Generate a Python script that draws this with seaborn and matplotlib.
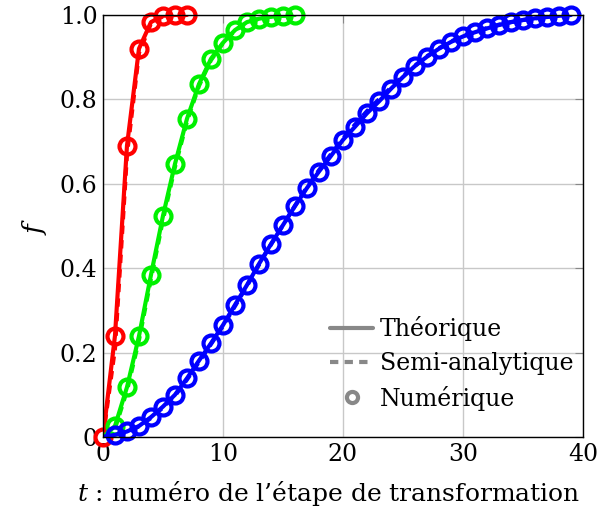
import numpy as np
import pandas as pd
import seaborn as sns
import matplotlib
matplotlib.use("Agg")
import matplotlib.pyplot as plt
from matplotlib.lines import Line2D

# values
t_red = [0, 1, 2, 3, 4, 5, 6, 7]
f_red_theo = [0, 0.24, 0.69, 0.92, 0.983, 0.998, 1.0, 1.0]
f_red_semi = [0, 0.21, 0.67, 0.91, 0.98, 0.997, 1.0, 1.0]
f_red_num = [0, 0.24, 0.69, 0.92, 0.983, 0.998, 1.0, 1.0]

t_green = list(range(0, 17))
f_green_theo = [0, 0.026, 0.118, 0.239, 0.384, 0.524, 0.647, 0.754, 0.836,
                0.896, 0.934, 0.964, 0.983, 0.991, 0.996, 0.998, 1.0]
f_green_semi = [0, 0.02, 0.11, 0.23, 0.375, 0.515, 0.64, 0.748, 0.832,
                0.893, 0.933, 0.963, 0.982, 0.991, 0.996, 0.998, 1.0]
f_green_num = f_green_theo

t_blue = list(range(0, 40))
f_blue_theo = [0, 0.005, 0.013, 0.026, 0.047, 0.072, 0.10, 0.139, 0.181, 0.222,
               0.265, 0.313, 0.36, 0.41, 0.457, 0.502, 0.547, 0.59, 0.629, 0.666,
               0.704, 0.735, 0.767, 0.795, 0.825, 0.853, 0.879, 0.901, 0.92, 0.936,
               0.949, 0.959, 0.968, 0.976, 0.983, 0.988, 0.992, 0.995, 0.998, 1.0]
f_blue_semi = [0, 0.004, 0.012, 0.025, 0.045, 0.07, 0.098, 0.136, 0.178, 0.22,
               0.263, 0.31, 0.358, 0.408, 0.456, 0.502, 0.548, 0.592, 0.632, 0.67,
               0.707, 0.74, 0.772, 0.8, 0.828, 0.855, 0.88, 0.902, 0.921, 0.937,
               0.95, 0.96, 0.969, 0.977, 0.983, 0.988, 0.992, 0.995, 0.998, 1.0]
f_blue_num = f_blue_theo[1:]
t_blue_num = t_blue[1:]

sns.set_style("whitegrid")
plt.rcParams['font.family'] = ['DejaVu Serif']
plt.rcParams['mathtext.fontset'] = 'dejavuserif'
plt.rcParams['text.color'] = 'black'
plt.rcParams['axes.labelcolor'] = 'black'
plt.rcParams['xtick.labelcolor'] = 'black'
plt.rcParams['ytick.labelcolor'] = 'black'

fig = plt.figure(figsize=(6.13, 5.15), dpi=100)
ax = fig.add_axes([0.168, 0.1515, 0.783, 0.8195])

series = [
    ("#ff0000", t_red, f_red_theo, f_red_semi, t_red, f_red_num),
    ("#00f000", t_green, f_green_theo, f_green_semi, t_green[1:], f_green_num[1:]),
    ("#0000ff", t_blue, f_blue_theo, f_blue_semi, t_blue_num, f_blue_num),
]

for c, t, ft, fs, tn, fn in series:
    sns.lineplot(x=t, y=ft, color=c, linewidth=3, ax=ax)
    sns.lineplot(x=t, y=fs, color=c, linewidth=3, linestyle=(0, (2, 1.5)), ax=ax)
    sns.lineplot(x=tn, y=fn, color=c, linestyle='', marker='o', markersize=11.5,
                 markerfacecolor='none', markeredgecolor=c, markeredgewidth=3,
                 clip_on=False, ax=ax)

ax.set_xlim(0, 40)
ax.set_ylim(0, 1)
ax.set_xticks([0, 10, 20, 30, 40])
ax.set_yticks([0, 0.2, 0.4, 0.6, 0.8, 1.0])
ax.set_yticklabels(["0", "0.2", "0.4", "0.6", "0.8", "1.0"])
ax.grid(True, color="#c8c8c8", linewidth=1)
for s in ax.spines.values():
    s.set_color("black")
    s.set_linewidth(1)
ax.tick_params(direction='in', top=True, right=True, length=6, width=0.8,
               color="#888888", labelsize=17, pad=4)

ax.set_xlabel("$t$ : numéro de l’étape de transformation", fontsize=18, labelpad=10)
ax.xaxis.set_label_coords(0.47, -0.1)
ax.set_ylabel("$f$", fontsize=19, labelpad=8)

handles = [
    Line2D([], [], color="#888888", linewidth=3),
    Line2D([], [], color="#888888", linewidth=3, linestyle=(0, (2, 1.5))),
    Line2D([], [], color="#888888", linestyle='', marker='o', markersize=8,
           markerfacecolor='none', markeredgewidth=3),
]
ax.legend(handles, ["Théorique", "Semi-analytique", "Numérique"], loc="lower right",
          frameon=False, fontsize=17, handlelength=1.8, handletextpad=0.3,
          labelspacing=0.45, borderaxespad=0.0, bbox_to_anchor=(1.0, 0.04))

plt.savefig("out.png", dpi=100)
